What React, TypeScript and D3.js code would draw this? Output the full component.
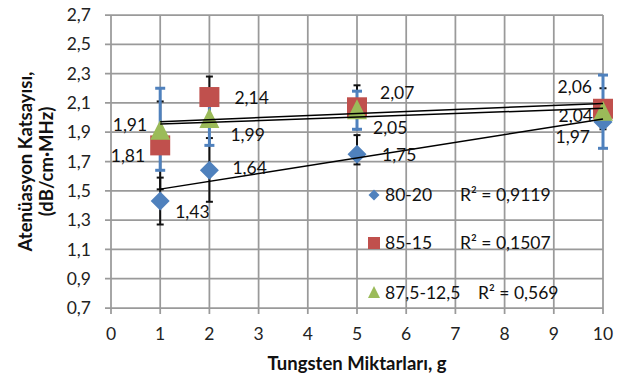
import * as d3 from 'd3';

const xValues = [1, 2, 5, 10];
const seriesNames = ['80-20', '85-15', '87,5-12,5'];
const values80 = [1.43, 1.64, 1.75, 1.97];
const values85 = [1.81, 2.14, 2.07, 2.06];
const values875 = [1.91, 1.99, 2.05, 2.04];
// error bar ends [low, high]
const err80 = [[1.27, 1.59], [1.425, 1.86], [1.68, 1.88], [1.94, 2.0]];
const err85 = [[1.51, 2.11], [2.0, 2.28], [1.92, 2.22], [1.92, 2.2]];
const err875 = [[1.64, 2.2], [1.81, 2.17], [1.92, 2.18], [1.79, 2.29]];
const rSquared = ['0,9119', '0,1507', '0,569'];
const xTicks = [0, 1, 2, 3, 4, 5, 6, 7, 8, 9, 10];
const yTicks = [0.7, 0.9, 1.1, 1.3, 1.5, 1.7, 1.9, 2.1, 2.3, 2.5, 2.7];

const W = 628;
const H = 378;
const margin = { left: 111, right: 25, top: 15, bottom: 70 };
const FONT = 'Lato, "Open Sans", sans-serif';
const FS = 17.5;
const fmt = (v: number) => v.toFixed(2).replace('.', ',');

const series = [
  { name: seriesNames[0], values: values80, err: err80, color: '#4f81bd', errColor: '#111', shape: 'diamond', r2: rSquared[0] },
  { name: seriesNames[1], values: values85, err: err85, color: '#c0504d', errColor: '#111', shape: 'square', r2: rSquared[1] },
  { name: seriesNames[2], values: values875, err: err875, color: '#9bbb59', errColor: '#4f81bd', shape: 'triangle', r2: rSquared[2] },
];

// label offsets per point (negative dx -> anchored at end)
const labelOffsets = [
  [[15, 11], [23, -2], [25, 1], [-13, 15]],
  [[-15, 10], [25, 1], [23, -14], [-11, -22]],
  [[-13, -6], [21, 16], [16, 18], [-10, 4]],
];
const legendRows = [195, 243, 293];
const r2X = [460, 460, 478];

function linearFit(xs: number[], ys: number[]) {
  const mx = d3.mean(xs) as number;
  const my = d3.mean(ys) as number;
  const sxy = d3.sum(xs, (x, i) => (x - mx) * (ys[i] - my));
  const sxx = d3.sum(xs, (x) => (x - mx) ** 2);
  const slope = sxy / sxx;
  return (x: number) => my + slope * (x - mx);
}

function Marker({ shape, x, y, size, color }: any) {
  const h = size / 2;
  if (shape === 'diamond') {
    return <path d={`M${x},${y - h}L${x + h},${y}L${x},${y + h}L${x - h},${y}Z`} fill={color} />;
  }
  if (shape === 'square') {
    return <rect x={x - h} y={y - h} width={size} height={size} fill={color} />;
  }
  return <path d={`M${x},${y - h - 1}L${x + h},${y + h - 1}L${x - h},${y + h - 1}Z`} fill={color} />;
}

export default function App() {
  const x = d3.scaleLinear().domain([0, 10]).range([margin.left, W - margin.right]);
  const y = d3.scaleLinear().domain([0.7, 2.7]).range([H - margin.bottom, margin.top]);
  const grid = '#9a9a9a';

  return (
    <div style={{ position: 'absolute', left: 0, top: 0 }}>
      <svg width={W} height={H} style={{ display: 'block', background: '#fff' }} fontFamily={FONT}>
        {/* grid */}
        {yTicks.map((t) => (
          <line key={'gy' + t} x1={x(0) - 6} x2={x(10)} y1={y(t)} y2={y(t)} stroke={grid} strokeWidth={1.75} />
        ))}
        {xTicks.map((t) => (
          <line key={'gx' + t} x1={x(t)} x2={x(t)} y1={y(2.7)} y2={y(0.7) + 6} stroke={grid} strokeWidth={1.75} />
        ))}
        {/* tick labels */}
        {yTicks.map((t) => (
          <text key={'ty' + t} x={91} y={y(t)} dy="0.35em" textAnchor="end" fontSize={FS} fill="#222">
            {t.toFixed(1).replace('.', ',')}
          </text>
        ))}
        {xTicks.map((t) => (
          <text key={'tx' + t} x={x(t)} y={334} dy="0.35em" textAnchor="middle" fontSize={FS} fill="#222">
            {t}
          </text>
        ))}
        {/* error bars */}
        {series.map((s, si) =>
          s.err.map(([lo, hi], i) => {
            const cx = x(xValues[i]);
            const cw = si === 2 ? 5 : 3.5;
            const sw = si === 2 ? 3 : 2;
            return (
              <g key={'e' + si + i} stroke={s.errColor} strokeWidth={sw}>
                <line x1={cx} x2={cx} y1={y(lo)} y2={y(hi)} />
                <line x1={cx - cw} x2={cx + cw} y1={y(lo)} y2={y(lo)} />
                <line x1={cx - cw} x2={cx + cw} y1={y(hi)} y2={y(hi)} />
              </g>
            );
          })
        )}
        {/* markers */}
        {series.map((s, si) =>
          s.values.map((v, i) => (
            <Marker key={'m' + si + i} shape={s.shape} x={x(xValues[i])} y={y(v)} size={si === 0 ? 19 : 20} color={s.color} />
          ))
        )}
        {/* trendlines */}
        {series.map((s, si) => {
          const f = linearFit(xValues, s.values);
          const line = d3.line<number>().x((d) => x(d)).y((d) => y(f(d)));
          return <path key={'t' + si} d={line([1, 10]) as string} fill="none" stroke="#000" strokeWidth={1.5} />;
        })}
        {/* data labels */}
        {series.map((s, si) =>
          s.values.map((v, i) => {
            const [dx, dy] = labelOffsets[si][i];
            return (
              <text key={'l' + si + i} x={x(xValues[i]) + dx} y={y(v) + dy} dy="0.35em"
                textAnchor={dx < 0 ? 'end' : 'start'} fontSize={FS} fill="#111">
                {fmt(v)}
              </text>
            );
          })
        )}
        {/* legend */}
        {series.map((s, si) => (
          <g key={'lg' + si}>
            <Marker shape={s.shape} x={374} y={legendRows[si]} size={si === 0 ? 11 : 12} color={s.color} />
            <text x={385} y={legendRows[si]} dy="0.35em" fontSize={FS} fill="#111">{s.name}</text>
            <text x={r2X[si]} y={legendRows[si]} dy="0.35em" fontSize={FS} fill="#111">R² = {s.r2}</text>
          </g>
        ))}
        {/* axis titles */}
        <text x={(x(0) + x(10)) / 2} y={364} dy="0.35em" textAnchor="middle" fontSize={18.5} fontWeight="bold" fill="#111">
          Tungsten Miktarları, g
        </text>
        <g transform={`translate(36, ${(y(0.7) + y(2.7)) / 2}) rotate(-90)`}>
          <text x={0} y={-10} dy="0.35em" textAnchor="middle" fontSize={18.5} fontWeight="bold" fill="#111">Atenüasyon Katsayısı,</text>
          <text x={0} y={11} dy="0.35em" textAnchor="middle" fontSize={18.5} fontWeight="bold" fill="#111">(dB/cm·MHz)</text>
        </g>
      </svg>
    </div>
  );
}
